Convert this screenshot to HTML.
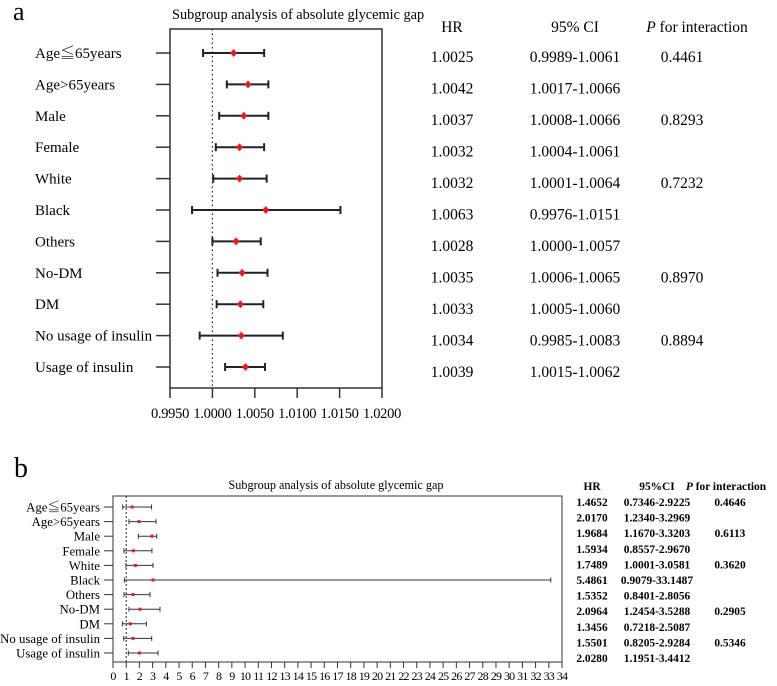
<!DOCTYPE html>
<html><head><meta charset="utf-8"><style>
body{margin:0;background:#fff}
svg, svg text{font-family:"Liberation Serif","DejaVu Serif","Noto Serif CJK SC",serif}
</style></head><body>
<svg id="c" width="777" height="681" viewBox="0 0 777 681" font-family="Liberation Serif, DejaVu Serif, Noto Serif CJK SC, serif"></svg>
<script>
const groups=["Age\u226665years","Age>65years","Male","Female","White","Black","Others","No-DM","DM","No usage of insulin","Usage of insulin"];
const hrA=[1.0025,1.0042,1.0037,1.0032,1.0032,1.0063,1.0028,1.0035,1.0033,1.0034,1.0039];
const loA=[0.9989,1.0017,1.0008,1.0004,1.0001,0.9976,1.0000,1.0006,1.0005,0.9985,1.0015];
const hiA=[1.0061,1.0066,1.0066,1.0061,1.0064,1.0151,1.0057,1.0065,1.0060,1.0083,1.0062];
const pA=["0.4461","","0.8293","","0.7232","","","0.8970","","0.8894",""];
const ticksA=["0.9950","1.0000","1.0050","1.0100","1.0150","1.0200"];
const hrB=[1.4652,2.0170,1.9684,1.5934,1.7489,5.4861,1.5352,2.0964,1.3456,1.5501,2.0280];
const loB=[0.7346,1.2340,1.1670,0.8557,1.0001,0.9079,0.8401,1.2454,0.7218,0.8205,1.1951];
const hiB=[2.9225,3.2969,3.3203,2.9670,3.0581,33.1487,2.8056,3.5288,2.5087,2.9284,3.4412];
const ptB=[1.45,1.97,2.95,1.54,1.69,3.03,1.52,2.05,1.31,1.52,2.0];
const ploB=[0.73,1.21,1.92,0.83,0.98,0.86,0.83,1.21,0.71,0.81,1.16];
const phiB=[2.92,3.26,3.31,2.95,3.03,33.15,2.8,3.56,2.53,2.93,3.41];
const pB=["0.4646","","0.6113","","0.3620","","","0.2905","","0.5346",""];
const ticksB=[];for(let i=0;i<=34;i++)ticksB.push(String(i));

const svg=document.getElementById('c');
const NS='http://www.w3.org/2000/svg';
const FF='Liberation Serif, DejaVu Serif, Noto Serif CJK SC, serif';
function mk(tag,at,txt){const e=document.createElementNS(NS,tag);for(const k in at)e.setAttribute(k,at[k]);if(tag==='text')e.setAttribute('font-family',FF);if(txt!==undefined)e.textContent=txt;svg.appendChild(e);return e;}
const f4=v=>v.toFixed(4);

// ---- Panel a ----
const xA=v=>170+(v-0.995)/0.025*212;
const yA=i=>53+i*31.4;
let e;
e=mk('text',{x:13,y:20,'font-size':26},'a');

e=mk('text',{x:172,y:19,'font-size':14.3},'Subgroup analysis of absolute glycemic gap');

e=mk('rect',{x:170,y:29,width:212,height:359,fill:'none',stroke:'#333','stroke-width':1.5});

e=mk('line',{x1:xA(1),y1:29,x2:xA(1),y2:388,stroke:'#222','stroke-width':1.2,'stroke-dasharray':'1.5,3'});

ticksA.forEach((t,i)=>{const x=xA(parseFloat(t));
 e=mk('line',{x1:x,y1:388,x2:x,y2:398,stroke:'#333','stroke-width':1.5});
 
 e=mk('text',{x:x,y:418,'font-size':14.5,'text-anchor':'middle','letter-spacing':'-0.3'},t);
 });
groups.forEach((g,i)=>{const y=yA(i);
 e=mk('text',{x:35,y:y+5,'font-size':15},g);
 
 e=mk('line',{x1:156,y1:y,x2:170,y2:y,stroke:'#333','stroke-width':1.5});
 
 e=mk('line',{x1:xA(loA[i]),y1:y,x2:xA(hiA[i]),y2:y,stroke:'#222','stroke-width':2});
 
 [loA[i],hiA[i]].forEach(v=>{e=mk('line',{x1:xA(v),y1:y-4,x2:xA(v),y2:y+4,stroke:'#222','stroke-width':2});
 });
 const cx=xA(hrA[i]);
 e=mk('polygon',{points:`${cx},${y-4} ${cx+3.5},${y} ${cx},${y+4} ${cx-3.5},${y}`,fill:'#f01818'});
 
 const ty=57+i*31.5;
 e=mk('text',{x:452,y:ty+5,'font-size':15.5,'text-anchor':'middle'},f4(hrA[i]));
 
 e=mk('text',{x:575,y:ty+5,'font-size':15.5,'text-anchor':'middle'},f4(loA[i])+'-'+f4(hiA[i]));
 
 if(pA[i]){e=mk('text',{x:682,y:ty+5,'font-size':15.5,'text-anchor':'middle'},pA[i]);
 }
});
e=mk('text',{x:452,y:32,'font-size':15.5,'text-anchor':'middle'},'HR');

e=mk('text',{x:575,y:32,'font-size':15.5,'text-anchor':'middle'},'95% CI');

e=mk('text',{x:697,y:32,'font-size':15.5,'text-anchor':'middle'});
e.innerHTML='<tspan font-style="italic">P</tspan> for interaction';


// ---- Panel b ----
const xB=v=>113+v*(449/34);
const yB=i=>507+i*14.6;
e=mk('text',{x:14,y:477,'font-size':28},'b');

e=mk('text',{x:336,y:489,'font-size':12.2,'text-anchor':'middle'},'Subgroup analysis of absolute glycemic gap');

e=mk('rect',{x:113,y:496,width:449,height:166,fill:'none',stroke:'#333','stroke-width':1});

e=mk('line',{x1:xB(1),y1:496,x2:xB(1),y2:662,stroke:'#222','stroke-width':1,'stroke-dasharray':'2,2'});

ticksB.forEach(t=>{const x=xB(parseFloat(t));
 e=mk('line',{x1:x,y1:662,x2:x,y2:668,stroke:'#333','stroke-width':1});
 
 e=mk('text',{x:x,y:680,'font-size':12,'text-anchor':'middle','letter-spacing':'-0.8'},t);
 });
groups.forEach((g,i)=>{const y=yB(i);
 e=mk('text',{x:100,y:y+4.5,'font-size':12.8,'text-anchor':'end'},g);
 
 e=mk('line',{x1:104,y1:y,x2:113,y2:y,stroke:'#333','stroke-width':1});
 
 e=mk('line',{x1:xB(ploB[i]),y1:y,x2:xB(phiB[i]),y2:y,stroke:'#333','stroke-width':1});
 
 [ploB[i],phiB[i]].forEach(v=>{e=mk('line',{x1:xB(v),y1:y-2.5,x2:xB(v),y2:y+2.5,stroke:'#333','stroke-width':1});
 });
 e=mk('rect',{x:xB(ptB[i])-1.5,y:y-1.5,width:3,height:3,fill:'#f01818'});
 
 const ty=502+i*15.6;
 e=mk('text',{x:592,y:ty+4,'font-size':11.4,'font-weight':'bold','text-anchor':'middle'},f4(hrB[i]));
 
 e=mk('text',{x:657,y:ty+4,'font-size':11.4,'font-weight':'bold','text-anchor':'middle'},f4(loB[i])+'-'+f4(hiB[i]));
 
 if(pB[i]){e=mk('text',{x:730,y:ty+4,'font-size':11.4,'font-weight':'bold','text-anchor':'middle'},pB[i]);
 }
});
e=mk('text',{x:592,y:490,'font-size':11.4,'font-weight':'bold','text-anchor':'middle'},'HR');

e=mk('text',{x:657,y:490,'font-size':11.4,'font-weight':'bold','text-anchor':'middle'},'95%CI');

e=mk('text',{x:726,y:490,'font-size':11.4,'font-weight':'bold','text-anchor':'middle'});
e.innerHTML='<tspan font-style="italic">P</tspan> for interaction';

</script>
</body></html>
